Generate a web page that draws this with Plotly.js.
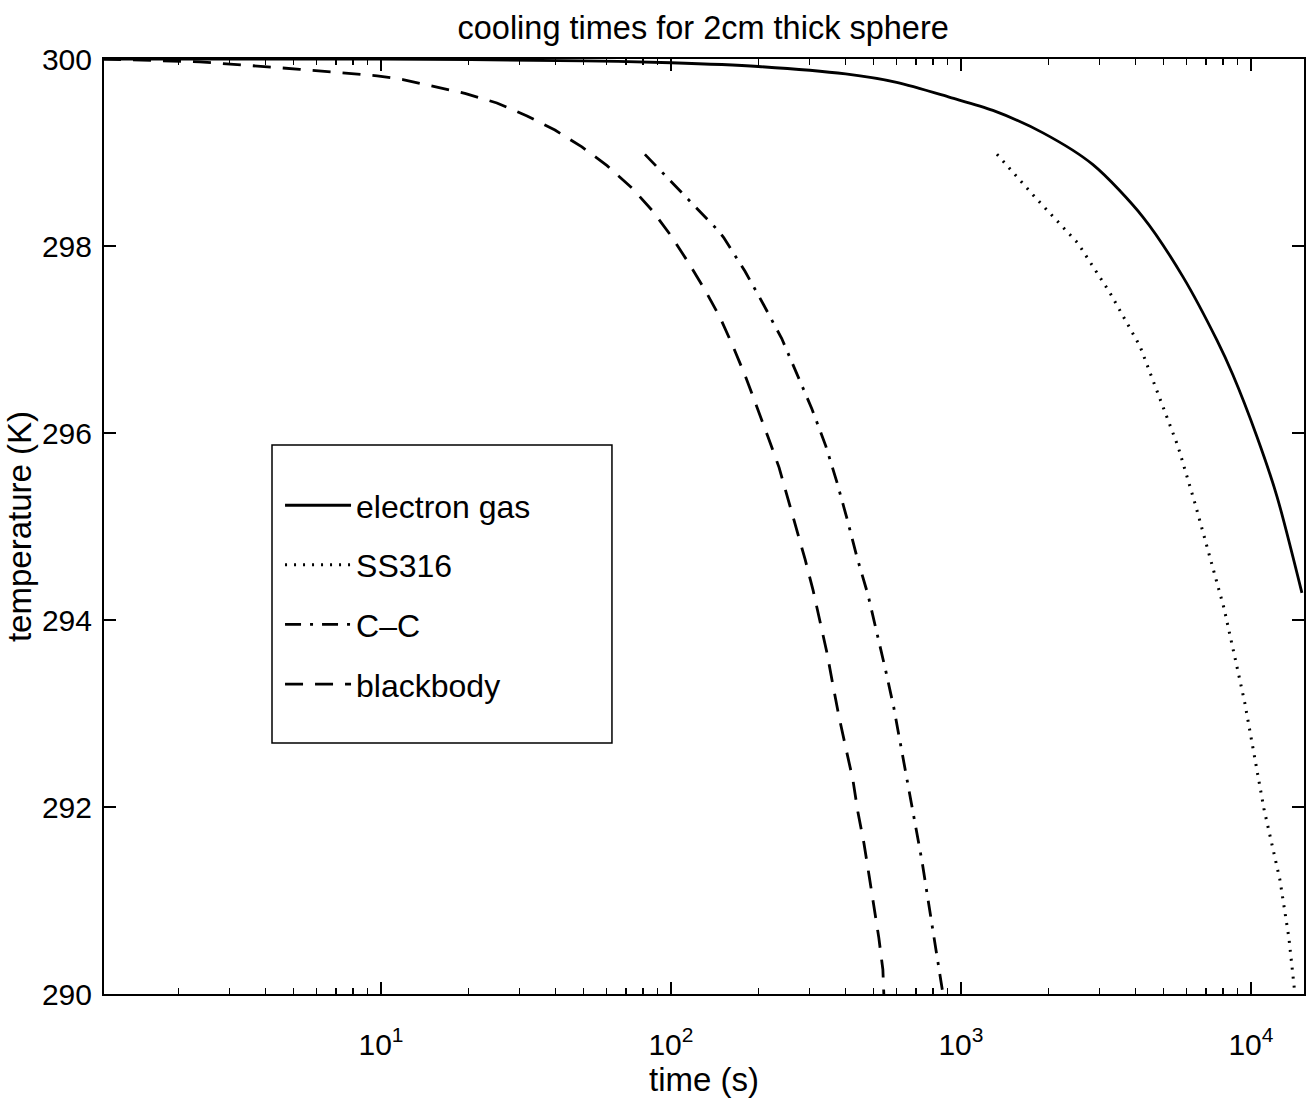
<!DOCTYPE html>
<html>
<head>
<meta charset="utf-8">
<script src="https://cdn.plot.ly/plotly-3.0.1.min.js"></script>
<style>
  html, body { margin: 0; padding: 0; background: #fff; }
  #chart { width: 1307px; height: 1100px; }
</style>
</head>
<body>
<div id="chart"></div>
<script>
// ---- data ----
const electronGasTime = [1.1, 10, 50, 100, 200, 400, 600, 916, 1289, 1918, 2852, 4242, 5830, 7640, 8670, 10490, 12300, 14990];
const electronGasTemp = [300.00, 300.00, 299.98, 299.96, 299.92, 299.84, 299.75, 299.59, 299.45, 299.21, 298.87, 298.31, 297.67, 296.99, 296.62, 295.96, 295.32, 294.29];

const ss316Time = [1331, 1828, 2531, 3264, 4142, 4855, 5600, 6410, 7280, 8070, 8950, 9530, 11090, 12590, 13520, 13960, 14180];
const ss316Temp = [298.98, 298.50, 298.03, 297.50, 296.93, 296.37, 295.86, 295.25, 294.62, 294.13, 293.50, 293.11, 291.98, 291.22, 290.60, 290.21, 290.00];

const ccTime = [81.3, 100.8, 124, 145, 152, 180, 208, 241, 272, 306, 342, 373, 405, 438, 478, 513, 551, 587, 621, 657, 694, 734, 769, 807, 847, 867];
const ccTemp = [298.98, 298.68, 298.39, 298.17, 298.09, 297.73, 297.38, 297.01, 296.63, 296.26, 295.86, 295.48, 295.08, 294.67, 294.27, 293.87, 293.45, 293.06, 292.64, 292.25, 291.84, 291.42, 291.02, 290.61, 290.19, 290.00];

const blackbodyTime = [1.1, 2.37, 5.25, 9.7, 11.9, 15.4, 19.6, 25.1, 31.9, 39.8, 49.3, 60.2, 73.4, 86.7, 100, 115, 131, 148, 164, 181, 198, 216, 236, 253, 272, 290, 309, 327, 345, 362, 380, 401, 424, 441, 463, 482, 501, 521, 538, 542];
const blackbodyTemp = [300.00, 299.97, 299.89, 299.82, 299.78, 299.70, 299.63, 299.53, 299.39, 299.24, 299.06, 298.86, 298.62, 298.37, 298.11, 297.82, 297.53, 297.23, 296.92, 296.60, 296.28, 295.96, 295.63, 295.30, 294.98, 294.65, 294.32, 293.98, 293.65, 293.30, 292.96, 292.63, 292.29, 291.95, 291.61, 291.27, 290.93, 290.60, 290.26, 290.00];

const seriesNames = ['electron gas', 'SS316', 'C\u2013C', 'blackbody'];

const xMajorTicks = [10, 100, 1000, 10000];
const xMajorLabels = ['10<sup>1</sup>', '10<sup>2</sup>', '10<sup>3</sup>', '10<sup>4</sup>'];
const yTicks = [290, 292, 294, 296, 298, 300];
const yTickLabels = ['290', '292', '294', '296', '298', '300'];
const titleText = 'cooling times for 2cm thick sphere';
const xTitle = 'time (s)';
const yTitle = 'temperature (K)';

// minor ticks 2..9 within each decade
const xMinorTicks = [];
[1, 10, 100, 1000, 10000].forEach(d => { for (let k = 2; k <= 9; k++) xMinorTicks.push(k * d); });

// ---- styling ----
const FONT = 'Liberation Sans, Arial, Helvetica, sans-serif';
const LW = 2.8;

const traces = [
  { x: electronGasTime, y: electronGasTemp, line: { color: '#000', width: LW, dash: 'solid', shape: 'spline', smoothing: 0.8 } },
  { x: ss316Time, y: ss316Temp, line: { color: '#000', width: 3, dash: '2px,7px' } },
  { x: ccTime, y: ccTemp, line: { color: '#000', width: LW, dash: '16px,9px,3px,9px' } },
  { x: blackbodyTime, y: blackbodyTemp, line: { color: '#000', width: LW, dash: '18px,12px' } }
].map((t, i) => Object.assign(t, {
  type: 'scatter', mode: 'lines', name: seriesNames[i], legendgroup: 'g' + i,
  hoverinfo: 'x+y+name'
}));

const axisCommon = {
  showline: true, linecolor: '#000', linewidth: 2,
  mirror: 'ticks', ticks: 'inside', tickcolor: '#000', tickwidth: 2,
  showgrid: false, zeroline: false,
  tickfont: { family: FONT, size: 30, color: '#000' }
};

const layout = {
  width: 1307, height: 1100,
  paper_bgcolor: '#fff', plot_bgcolor: '#fff',
  margin: { l: 104, r: 3, t: 59, b: 106 },
  font: { family: FONT, color: '#000' },
  title: {
    text: titleText, font: { family: FONT, size: 32.5, color: '#000' },
    x: 0.538, xref: 'container', xanchor: 'center', y: 0.975, yref: 'container', yanchor: 'middle'
  },
  xaxis: Object.assign({}, axisCommon, {
    type: 'log', range: [0.0448, 4.183], autorange: false,
    tickmode: 'array', tickvals: xMajorTicks, ticktext: xMajorLabels, ticklen: 12,
    ticklabelstandoff: 23,
    minor: { tickmode: 'array', tickvals: xMinorTicks, ticks: 'inside', ticklen: 6, tickwidth: 1.5, tickcolor: '#000' },
    title: { text: xTitle, font: { family: FONT, size: 33, color: '#000' }, standoff: 0 }
  }),
  yaxis: Object.assign({}, axisCommon, {
    range: [290, 300], autorange: false,
    tickmode: 'array', tickvals: yTicks, ticktext: yTickLabels, ticklen: 12,
    ticklabelstandoff: 4,
    title: { text: yTitle, font: { family: FONT, size: 33, color: '#000' }, standoff: 0 }
  }),
  legend: {
    x: 0.1467, y: 0.5519, xanchor: 'left', yanchor: 'top',
    bgcolor: 'rgba(0,0,0,0)', borderwidth: 0,
    font: { family: FONT, size: 32, color: '#000' },
    tracegroupgap: 15, itemwidth: 66
  },
  shapes: [{
    type: 'rect', xref: 'paper', yref: 'paper',
    x0: 0.14, x1: 0.4233, y0: 0.2684, y1: 0.5872,
    line: { color: '#000', width: 1.5 }, fillcolor: '#fff', layer: 'above'
  }],
  showlegend: true
};

Plotly.newPlot('chart', traces, layout, { displayModeBar: false, staticPlot: true });
</script>
</body>
</html>
